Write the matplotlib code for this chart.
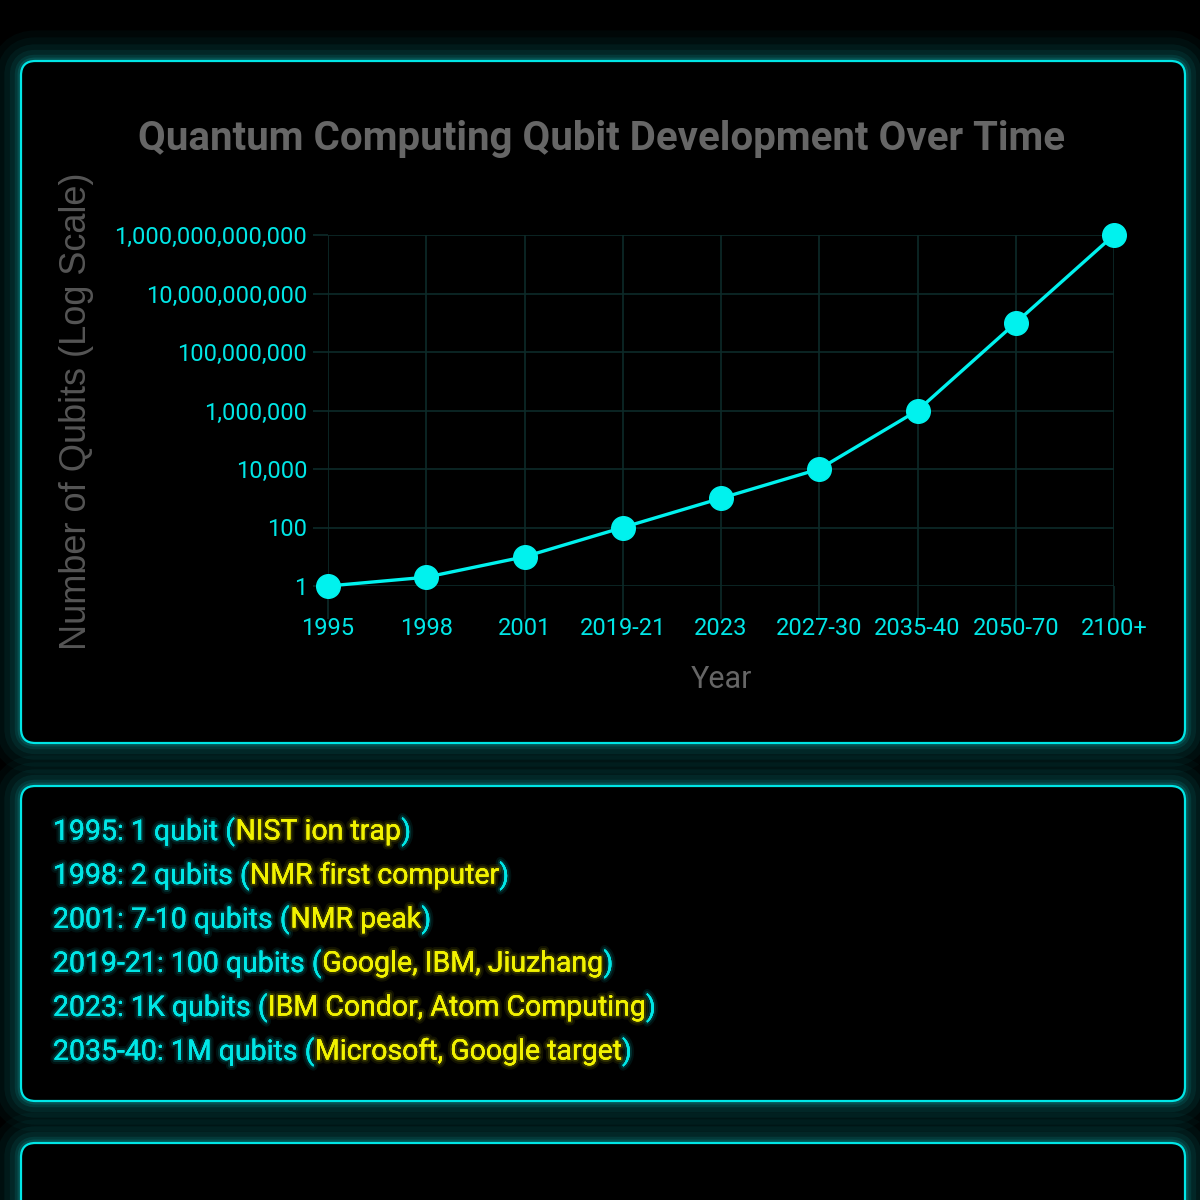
import matplotlib
matplotlib.use("Agg")
import matplotlib.pyplot as plt
import matplotlib.patheffects as pe
from matplotlib.patches import FancyBboxPatch
from matplotlib.ticker import FixedLocator, FuncFormatter

# data
years = ["1995", "1998", "2001", "2019-21", "2023", "2027-30", "2035-40", "2050-70", "2100+"]
qubits = [1, 2, 10, 100, 1000, 10000, 1e6, 1e9, 1e12]
y_ticks = [1, 1e2, 1e4, 1e6, 1e8, 1e10, 1e12]

note_years = ["1995", "1998", "2001", "2019-21", "2023", "2035-40"]
note_counts = ["1 qubit", "2 qubits", "7-10 qubits", "100 qubits", "1K qubits", "1M qubits"]
note_sources = ["NIST ion trap", "NMR first computer", "NMR peak", "Google, IBM, Jiuzhang",
                "IBM Condor, Atom Computing", "Microsoft, Google target"]

CYAN = "#00e6e6"
LINE = "#00f2ee"
YELLOW = "#f2f200"
GRAY = "#666666"
W, H = 1200, 1200

fig = plt.figure(figsize=(12, 12), dpi=100, facecolor="#000000")


def fx(px):
    return px / W


def fy(py):
    return 1 - py / H


def panel(x0, y0, x1, y1):
    # soft outer glow, then the panel itself
    for lw, a in [(44, 0.04), (34, 0.05), (24, 0.07), (16, 0.09), (9, 0.13), (5, 0.18)]:
        fig.patches.append(FancyBboxPatch(
            (fx(x0), fy(y1)), fx(x1 - x0), (y1 - y0) / H,
            boxstyle="round,pad=0,rounding_size=0.012", transform=fig.transFigure,
            facecolor="none", edgecolor="#0fb5b5", linewidth=lw, alpha=a, zorder=0))
    fig.patches.append(FancyBboxPatch(
        (fx(x0), fy(y1)), fx(x1 - x0), (y1 - y0) / H,
        boxstyle="round,pad=0,rounding_size=0.012", transform=fig.transFigure,
        facecolor="#000000", edgecolor=CYAN, linewidth=1.6, zorder=1))


panel(21, 61, 1185, 743)
panel(21, 786, 1185, 1101)
panel(21, 1143, 1185, 1260)

ax = fig.add_axes([fx(328), fy(586), fx(1114 - 328), (586 - 235) / H])
ax.set_facecolor("none")
ax.set_zorder(3)
x = list(range(len(years)))
ax.plot(x, qubits, color=LINE, linewidth=2.4, marker="o", markersize=17,
        markerfacecolor=LINE, markeredgecolor=LINE, clip_on=False, zorder=5)
ax.set_yscale("log")
ax.set_ylim(1, 1e12)
ax.set_xlim(0, len(years) - 1)
ax.yaxis.set_major_locator(FixedLocator(y_ticks))
ax.yaxis.set_minor_locator(FixedLocator([]))
ax.yaxis.set_major_formatter(FuncFormatter(lambda v, p: f"{int(round(v)):,}"))
ax.set_xticks(x)
ax.set_xticklabels(years)
ax.grid(True, color="#0d2b29", linewidth=1.2)
for s in ax.spines.values():
    s.set_visible(False)
ax.tick_params(axis="both", colors="#0d2b29", length=11, width=1.2, pad=4)
ax.tick_params(axis="x", length=24, pad=-2)
for lab in ax.get_xticklabels() + ax.get_yticklabels():
    lab.set_color(CYAN)
    lab.set_fontfamily("Roboto")
    lab.set_fontsize(17)

fig.text(fx(602), fy(139), "Quantum Computing Qubit Development Over Time",
         ha="center", va="center", fontsize=29, fontweight="bold",
         family="Roboto", color=GRAY)
fig.text(fx(721), fy(679), "Year", ha="center", va="center", fontsize=22,
         family="Roboto", color=GRAY)
fig.text(fx(77), fy(411), "Number of Qubits (Log Scale)", ha="center", va="center",
         rotation=90, fontsize=26, family="Liberation Sans", color="#555555")

# notes panel: cyan text with yellow sources, soft glow
glow_c = [pe.withStroke(linewidth=6, foreground=(0, 0.9, 0.9, 0.08)),
          pe.withStroke(linewidth=3, foreground=(0, 0.9, 0.9, 0.15))]
glow_y = [pe.withStroke(linewidth=6, foreground=(0.95, 0.95, 0, 0.08)),
          pe.withStroke(linewidth=3, foreground=(0.95, 0.95, 0, 0.15))]
lines = []
for i in range(len(note_years)):
    y = fy(832 + 44 * i)
    parts = [(f"{note_years[i]}: {note_counts[i]} (", CYAN, glow_c),
             (note_sources[i], YELLOW, glow_y), (")", CYAN, glow_c)]
    row = []
    for txt, col, eff in parts:
        row.append(fig.text(fx(53), y, txt, color=col, fontsize=20.5, family="Roboto",
                            va="center", path_effects=eff))
    lines.append(row)

# put the pieces of each line one after another
fig.canvas.draw()
r = fig.canvas.get_renderer()
for row in lines:
    for prev, cur in zip(row[:-1], row[1:]):
        bb = prev.get_window_extent(r)
        cur.set_position((bb.x1 / W, prev.get_position()[1]))

fig.savefig("out.png", dpi=100, facecolor=fig.get_facecolor())
